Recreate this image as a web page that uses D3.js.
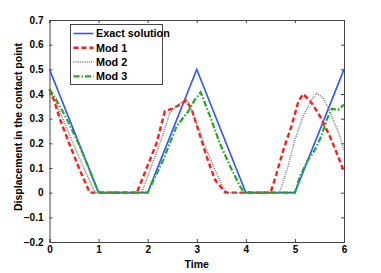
<!DOCTYPE html>
<html>
<head>
<meta charset="utf-8">
<script src="https://d3js.org/d3.v7.min.js"></script>
<style>
  body { margin: 0; background: #fff; }
  text { font-family: "Liberation Sans", Arial, sans-serif; font-weight: bold; }
</style>
</head>
<body>
<script>
// data: [time, displacement]
const exactSolution = [[0,0.5],[1,0],[2,0],[3,0.5],[4,0],[5,0],[6,0.5]];
const mod1 = [[0,0.42],[0.1,0.37],[0.21,0.3],[0.4,0.2],[0.6,0.1],[0.82,0],[1.78,0],[1.94,0.08],[2.18,0.2],[2.35,0.33],[2.49,0.34],[2.66,0.357],[2.78,0.374],[2.9,0.336],[3.03,0.255],[3.2,0.147],[3.37,0.053],[3.57,0.003],[3.6,0],[4.49,0],[4.52,0.01],[4.63,0.08],[4.76,0.17],[4.93,0.27],[5.07,0.37],[5.17,0.4],[5.34,0.364],[5.51,0.31],[5.71,0.23],[5.88,0.147],[6,0.085]];
const mod2 = [[0,0.41],[0.1,0.38],[0.27,0.3],[0.48,0.2],[0.7,0.1],[0.93,0],[1.88,0],[2.05,0.093],[2.28,0.215],[2.45,0.323],[2.66,0.364],[2.83,0.37],[3.0,0.28],[3.17,0.19],[3.37,0.093],[3.54,0.02],[3.63,0],[4.69,0],[4.73,0.026],[4.86,0.107],[5.0,0.215],[5.17,0.31],[5.34,0.377],[5.44,0.404],[5.58,0.384],[5.75,0.31],[5.92,0.228],[6,0.17]];
const mod3 = [[0,0.42],[0.1,0.39],[0.35,0.3],[0.59,0.2],[0.8,0.1],[1,0],[2,0],[2.32,0.134],[2.59,0.27],[2.83,0.33],[2.96,0.377],[3.08,0.407],[3.27,0.31],[3.47,0.2],[3.68,0.107],[3.88,0.026],[3.97,0],[5,0],[5.1,0.066],[5.27,0.134],[5.41,0.174],[5.54,0.23],[5.65,0.296],[5.75,0.34],[5.88,0.336],[6,0.357]];
const xTicks = [0,1,2,3,4,5,6];
const yTicks = [-0.2,-0.1,0,0.1,0.2,0.3,0.4,0.5,0.6,0.7];
const seriesNames = ["Exact solution","Mod 1","Mod 2","Mod 3"];

const W = 381, H = 273;
const m = {left: 49.5, right: 37, top: 20, bottom: 31};
const svg = d3.select("body").append("svg").attr("width", W).attr("height", H);

const x = d3.scaleLinear().domain([0,6]).range([m.left, W - m.right]);
const y = d3.scaleLinear().domain([-0.2,0.7]).range([H - m.bottom, m.top]);

const styles = [
  {data: exactSolution, color: "#3355ff", width: 1.6, dash: null},
  {data: mod1, color: "#ff1a1a", width: 2.4, dash: "5,3"},
  {data: mod2, color: "#777", width: 1.5, dash: "1,1.2"},
  {data: mod3, color: "#22aa22", width: 2.2, dash: "6,2,1.5,2"}
];

// axes box
const fmt = d => d === 0 ? "0" : d3.format(".1f")(d).replace("-", "\u2212");
const axisColor = "#444";

const gx = svg.append("g").attr("transform", `translate(0,${y(-0.2)})`)
  .call(d3.axisBottom(x).tickValues(xTicks).tickSize(-3).tickPadding(4).tickFormat(d3.format("d")));
const gxTop = svg.append("g").attr("transform", `translate(0,${y(0.7)})`)
  .call(d3.axisTop(x).tickValues(xTicks).tickSize(-3).tickFormat(""));
const gy = svg.append("g").attr("transform", `translate(${x(0)},0)`)
  .call(d3.axisLeft(y).tickValues(yTicks).tickSize(-3).tickPadding(6).tickFormat(fmt));
const gyR = svg.append("g").attr("transform", `translate(${x(6)},0)`)
  .call(d3.axisRight(y).tickValues(yTicks).tickSize(-3).tickFormat(""));

[gx, gxTop, gy, gyR].forEach(g => {
  g.selectAll("path.domain").attr("stroke", axisColor).attr("stroke-width", 1);
  g.selectAll(".tick line").attr("stroke", axisColor);
  g.selectAll("text").attr("fill", "#000").style("font-size", "10px").style("font-family", "Liberation Sans, Arial, sans-serif").style("font-weight", "bold");
});

// lines
const line = d3.line().x(d => x(d[0])).y(d => y(d[1]));
styles.forEach(s => {
  svg.append("path").datum(s.data)
    .attr("fill", "none")
    .attr("stroke", s.color)
    .attr("stroke-width", s.width)
    .attr("stroke-dasharray", s.dash)
    .attr("d", line);
});

// axis labels
svg.append("text").attr("x", (x(0)+x(6))/2).attr("y", 268)
  .attr("text-anchor", "middle").style("font-size", "10.5px").text("Time");
svg.append("text")
  .attr("transform", `translate(22,${(y(0.7)+y(-0.2))/2 - 4}) rotate(-90)`)
  .attr("text-anchor", "middle").style("font-size", "10.5px")
  .text("Displacement in the contact point");

// legend
const lg = svg.append("g").attr("transform", "translate(70.5,24.5)");
lg.append("rect").attr("width", 92).attr("height", 60)
  .attr("fill", "#fff").attr("stroke", axisColor).attr("stroke-width", 1);
seriesNames.forEach((name, i) => {
  const yy = 9 + i * 14.3;
  lg.append("line").attr("x1", 3).attr("x2", 23).attr("y1", yy).attr("y2", yy)
    .attr("stroke", styles[i].color).attr("stroke-width", styles[i].width)
    .attr("stroke-dasharray", styles[i].dash);
  lg.append("text").attr("x", 25.5).attr("y", yy + 3.8)
    .style("font-size", "10.8px").text(name);
});
</script>
</body>
</html>
